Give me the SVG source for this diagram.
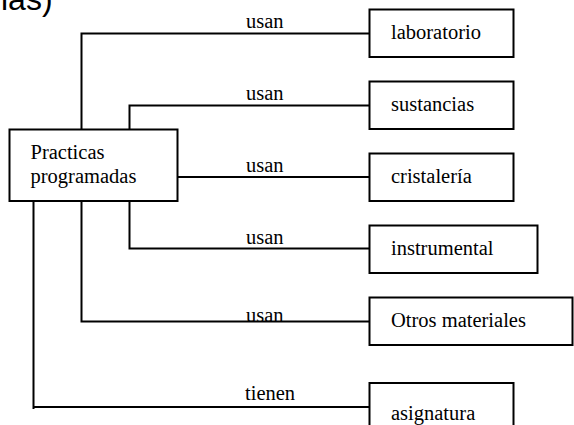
<svg xmlns="http://www.w3.org/2000/svg" width="574" height="425" viewBox="0 0 574 425">
  <style>
    .box { fill: #fff; stroke: #000; stroke-width: 2; }
    .lbl { font-family: "Liberation Serif", "Times New Roman", serif; font-size: 20.5px; fill: #000; }
    .conn { fill: none; stroke: #000; stroke-width: 2; }
    .head { font-family: "Liberation Sans", Arial, sans-serif; font-size: 32px; fill: #000; }
  </style>
  <rect width="574" height="425" fill="#fff"/>

  <!-- tail of the heading line above, clipped by the page edge -->
  <text class="head" x="1" y="10">ias)</text>

  <!-- connectors -->
  <g id="connectors">
    <path class="conn" d="M81.5,129.5 V33.5 H369.5"/>
    <path class="conn" d="M129.5,129.5 V105.5 H369.5"/>
    <path class="conn" d="M177.5,177 H369.5"/>
    <path class="conn" d="M129.5,201 V248.5 H369.5"/>
    <path class="conn" d="M81.5,201 V321.5 H369.5"/>
    <path class="conn" d="M33.5,201 V409 M33.5,407 H369.5"/>
    <text class="lbl" x="246" y="27.5">usan</text>
    <text class="lbl" x="246" y="99.5">usan</text>
    <text class="lbl" x="246" y="171.5">usan</text>
    <text class="lbl" x="246" y="243.5">usan</text>
    <text class="lbl" x="246" y="321.5">usan</text>
    <text class="lbl" x="245" y="400">tienen</text>
  </g>

  <g id="practicas">
    <rect class="box" x="9.5" y="129.5" width="168" height="71.5"/>
    <text class="lbl" x="30.5" y="159">Practicas</text>
    <text class="lbl" x="30.5" y="183">programadas</text>
  </g>

  <g id="laboratorio">
    <rect class="box" x="369.5" y="9.5" width="144" height="47.5"/>
    <text class="lbl" x="391" y="39">laboratorio</text>
  </g>

  <g id="sustancias">
    <rect class="box" x="369.5" y="81.5" width="144" height="47.5"/>
    <text class="lbl" x="391" y="111">sustancias</text>
  </g>

  <g id="cristaleria">
    <rect class="box" x="369.5" y="153.5" width="144" height="47.5"/>
    <text class="lbl" x="391" y="183">cristalería</text>
  </g>

  <g id="instrumental">
    <rect class="box" x="369.5" y="225.5" width="168" height="47.5"/>
    <text class="lbl" x="391" y="255">instrumental</text>
  </g>

  <g id="otros">
    <rect class="box" x="369.5" y="297.5" width="203" height="47.5"/>
    <text class="lbl" x="391" y="327">Otros materiales</text>
  </g>

  <g id="asignatura">
    <rect class="box" x="369.5" y="383" width="144" height="50"/>
    <text class="lbl" x="391" y="420">asignatura</text>
  </g>
</svg>
